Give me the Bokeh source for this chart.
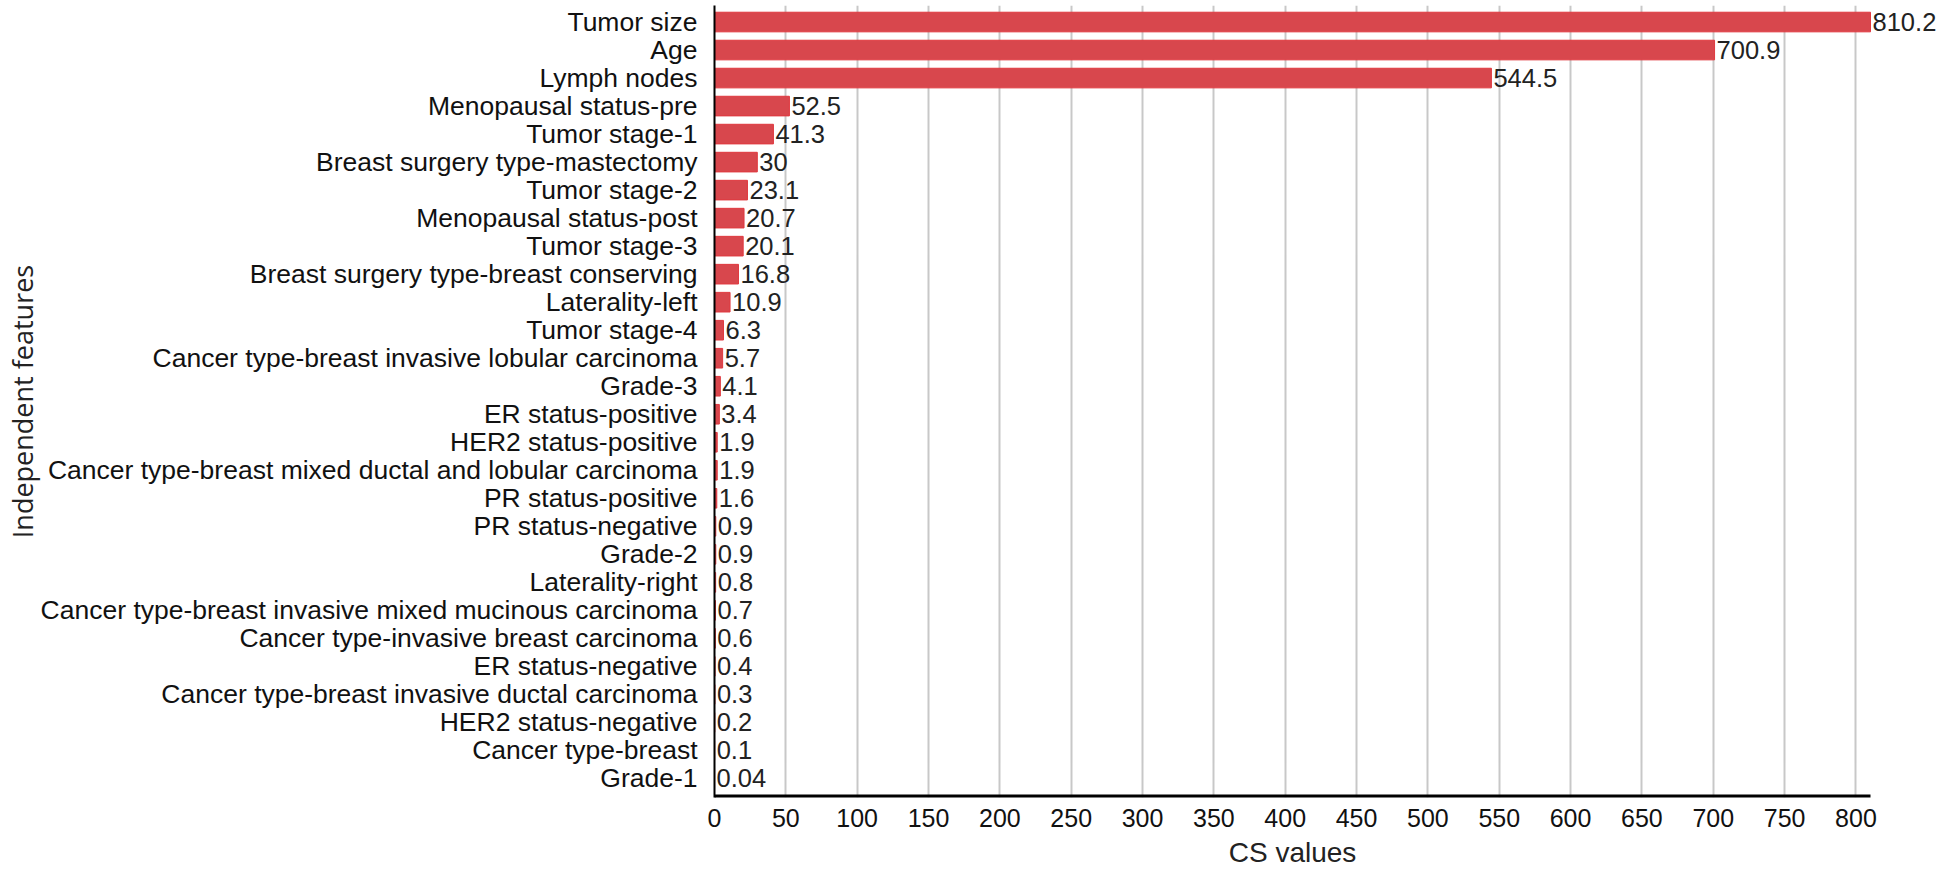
from bokeh.plotting import figure
from bokeh.models import ColumnDataSource, Range1d, FixedTicker, LabelSet, Title
from bokeh.core.properties import value
from bokeh.embed import file_html
from bokeh.resources import INLINE

features = ["Tumor size", "Age", "Lymph nodes", "Menopausal status-pre", "Tumor stage-1",
            "Breast surgery type-mastectomy", "Tumor stage-2", "Menopausal status-post",
            "Tumor stage-3", "Breast surgery type-breast conserving", "Laterality-left",
            "Tumor stage-4", "Cancer type-breast invasive lobular carcinoma", "Grade-3",
            "ER status-positive", "HER2 status-positive",
            "Cancer type-breast mixed ductal and lobular carcinoma", "PR status-positive",
            "PR status-negative", "Grade-2", "Laterality-right",
            "Cancer type-breast invasive mixed mucinous carcinoma",
            "Cancer type-invasive breast carcinoma", "ER status-negative",
            "Cancer type-breast invasive ductal carcinoma", "HER2 status-negative",
            "Cancer type-breast", "Grade-1"]
cs_values = [810.2, 700.9, 544.5, 52.5, 41.3, 30, 23.1, 20.7, 20.1, 16.8, 10.9, 6.3, 5.7,
             4.1, 3.4, 1.9, 1.9, 1.6, 0.9, 0.9, 0.8, 0.7, 0.6, 0.4, 0.3, 0.2, 0.1, 0.04]
x_ticks = list(range(0, 801, 50))

n = len(features)
ypos = [n - 1 - i for i in range(n)]
labels = [f"{v:g}" for v in cs_values]
xmax = max(cs_values)

src = ColumnDataSource(dict(y=ypos, v=cs_values, lab=labels, name=features))

LEFT = 713
AXIS_W = 1156          # pixel length of the axis from 0 to the largest value
FRAME_W = 1945 - LEFT  # frame extended to the right so the top value label is visible
FRAME_H = 792
y0, y1 = -0.68, n - 1 + 0.59

p = figure(frame_width=FRAME_W, frame_height=FRAME_H, width=1945, height=881,
           min_border_left=LEFT, min_border_right=0, min_border_top=5, min_border_bottom=84,
           x_range=Range1d(0, xmax * FRAME_W / AXIS_W), y_range=Range1d(y0, y1),
           output_backend="svg", toolbar_location=None)

p.hbar(y="y", right="v", left=0, height=0.7, source=src,
       fill_color="#d8474d", line_color="#e0393f", line_width=1)

# x axis line, drawn from 0 to the largest value only
p.segment(x0=[0], y0=[y0], x1=[xmax], y1=[y0], line_color="black", line_width=6)

p.add_layout(LabelSet(x="v", y="y", text="lab", source=src, x_offset=2,
                      text_baseline="middle", text_align="left",
                      text_font=value("Liberation Sans"), text_font_size=value("25.5px"),
                      text_color="#222222"))

# x-axis title, centred under the axis line (0 .. max)
XT = "CS values"
XT_SIZE = 28
xt_width = 4.557 * XT_SIZE
p.add_layout(Title(text=XT, align="left", offset=AXIS_W / 2 - xt_width / 2,
                   vertical_align="bottom", standoff=11,
                   text_font="Liberation Sans", text_font_size=f"{XT_SIZE}px",
                   text_font_style="normal", text_color="#222222"), "below")

p.outline_line_color = None
p.background_fill_color = "white"
p.border_fill_color = "white"

p.xgrid.ticker = FixedTicker(ticks=x_ticks)
p.xgrid.grid_line_color = "#c8c8c8"
p.xgrid.grid_line_width = 2
p.ygrid.grid_line_color = None

xa = p.xaxis[0]
xa.ticker = FixedTicker(ticks=x_ticks)
xa.axis_line_color = None
xa.major_tick_line_color = None
xa.minor_tick_line_color = None
xa.major_tick_out = 0
xa.major_tick_in = 0
xa.major_label_standoff = 11
xa.major_label_text_font = "Liberation Sans"
xa.major_label_text_font_size = "25px"
xa.major_label_text_color = "#111111"

ya = p.yaxis[0]
ya.ticker = FixedTicker(ticks=ypos)
ya.major_label_overrides = {y: f for y, f in zip(ypos, features)}
ya.axis_line_color = "black"
ya.axis_line_width = 2
ya.major_tick_line_color = None
ya.minor_tick_line_color = None
ya.major_tick_out = 0
ya.major_tick_in = 0
ya.major_label_standoff = 17
ya.major_label_text_font = "Liberation Sans"
ya.major_label_text_font_size = "26.5px"
ya.major_label_text_color = "#111111"
ya.axis_label = "Independent features"
ya.axis_label_text_font = "Open Sans"
ya.axis_label_text_font_size = "27px"
ya.axis_label_text_font_style = "normal"
ya.axis_label_text_color = "#222222"
ya.axis_label_standoff = -3

open("out.html", "w").write(file_html(p, INLINE))
